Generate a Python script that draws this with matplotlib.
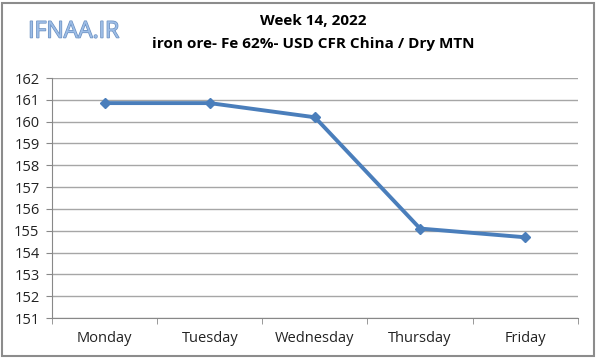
import numpy as np
import matplotlib.pyplot as plt
import matplotlib.patheffects as pe
from matplotlib.patches import Rectangle

# ------------------------------------------------------
# DATA
# ------------------------------------------------------
days = ["Monday", "Tuesday", "Wednesday", "Thursday", "Friday"]
prices = [160.85, 160.85, 160.2, 155.1, 154.7]
y_ticks = list(range(151, 163))

title_1 = "Week 14, 2022"
title_2 = "iron ore- Fe 62%- USD CFR China / Dry MTN"
logo = "IFNAA.IR"

# ------------------------------------------------------
# STYLE
# ------------------------------------------------------
line_color = "#4a7ebb"
grid_color = "#a6a6a6"
font = ["Open Sans", "DejaVu Sans"]
plt.rcParams["font.family"] = font

# ------------------------------------------------------
# PLOTTING
# ------------------------------------------------------
fig = plt.figure(figsize=(6, 3.59), dpi=100)
ax = fig.add_axes([0.0867, 0.1142, 0.8763, 0.6685])

x = np.arange(len(days))
ax.plot(x, prices, color=line_color, linewidth=2.8, marker="D",
        markersize=5, zorder=3)

ax.set_xlim(-0.5, len(days) - 0.5)
ax.set_ylim(151, 162)
ax.set_yticks(y_ticks)
ax.set_xticks(x)
ax.set_xticklabels(days)
ax.set_xticks(np.arange(-0.5, len(days)), minor=True)
ax.tick_params(axis="x", which="major", length=0, pad=9, labelsize=10.5,
               labelcolor="#222222")
ax.tick_params(axis="x", which="minor", length=4, color="#888888")
ax.tick_params(axis="y", length=4, color="#888888", labelsize=10.5,
               labelcolor="#222222", pad=5)
ax.grid(axis="y", color=grid_color, linewidth=1)
ax.set_axisbelow(True)
for s in ["top", "right"]:
    ax.spines[s].set_visible(False)
for s in ["left", "bottom"]:
    ax.spines[s].set_color("#888888")

# titles
fig.text(0.522, 0.942, title_1, ha="center", va="center",
         fontsize=11, fontweight="bold")
fig.text(0.522, 0.877, title_2, ha="center", va="center",
         fontsize=11, fontweight="bold")

# logo
fig.text(0.047, 0.912, logo, ha="left", va="center", fontsize=16.5,
         color="#9dbde6",
         path_effects=[pe.withStroke(linewidth=1.0, foreground="#6a8fc0")])

# frame
fig.patches.append(Rectangle((0.004, 0.008), 0.986, 0.985,
                             transform=fig.transFigure, fill=False,
                             edgecolor="#8c8c8c", linewidth=1.5))

plt.savefig("out.png", dpi=100)
